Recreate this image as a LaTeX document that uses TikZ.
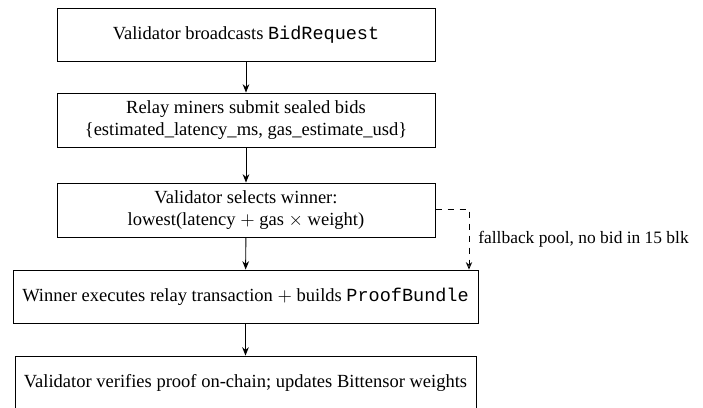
\documentclass[tikz,border=0pt]{standalone}
\usepackage{fontspec}
\setmainfont{Liberation Serif}
\setmonofont{Liberation Mono}
\usetikzlibrary{arrows.meta}
\begin{document}
\begin{tikzpicture}[x=0.54pt,y=-0.54pt,
  box/.style={draw, line width=0.5pt, align=center, inner sep=0pt, font=\fontsize{10}{12}\selectfont},
  flow/.style={-{Stealth[length=4.5pt,width=3.6pt]}, line width=0.5pt},
  fb/.style={dashed, dash pattern=on 3.5pt off 3pt, -{Stealth[length=4pt,width=3.4pt,open]}, line width=0.5pt}]
\useasboundingbox (0,0) rectangle (703,407);
\node[box, minimum width=378*0.54pt, minimum height=53*0.54pt] (b1) at (246,34.5) {Validator broadcasts \texttt{BidRequest}};
\node[box, minimum width=378*0.54pt, minimum height=54*0.54pt] (b2) at (246,120) {Relay miners submit sealed bids\\\{estimated\_latency\_ms, gas\_estimate\_usd\}};
\node[box, minimum width=378*0.54pt, minimum height=54*0.54pt] (b3) at (246,210) {Validator selects winner:\\lowest(latency $+$ gas $\times$ weight)};
\node[box, minimum width=465*0.54pt, minimum height=53*0.54pt] (b4) at (245.5,296.5) {Winner executes relay transaction $+$ builds \texttt{ProofBundle}};
\node[box, minimum width=461*0.54pt, minimum height=53*0.54pt] (b5) at (245.5,382.5) {Validator verifies proof on-chain; updates Bittensor weights};
\draw[flow] (b1) -- (b2);
\draw[flow] (b2) -- (b3);
\draw[flow] (b3) -- (b4);
\draw[flow] (b4) -- (b5);
\coordinate (c1) at (469,209);
\draw[fb] (b3.east |- c1) -- (c1) -- (c1 |- b4.north);
\node[anchor=west, inner sep=0pt, font=\fontsize{9.4}{11}\selectfont] (lbl) at (478,239.5) {fallback pool, no bid in 15 blk};
\end{tikzpicture}
\end{document}
